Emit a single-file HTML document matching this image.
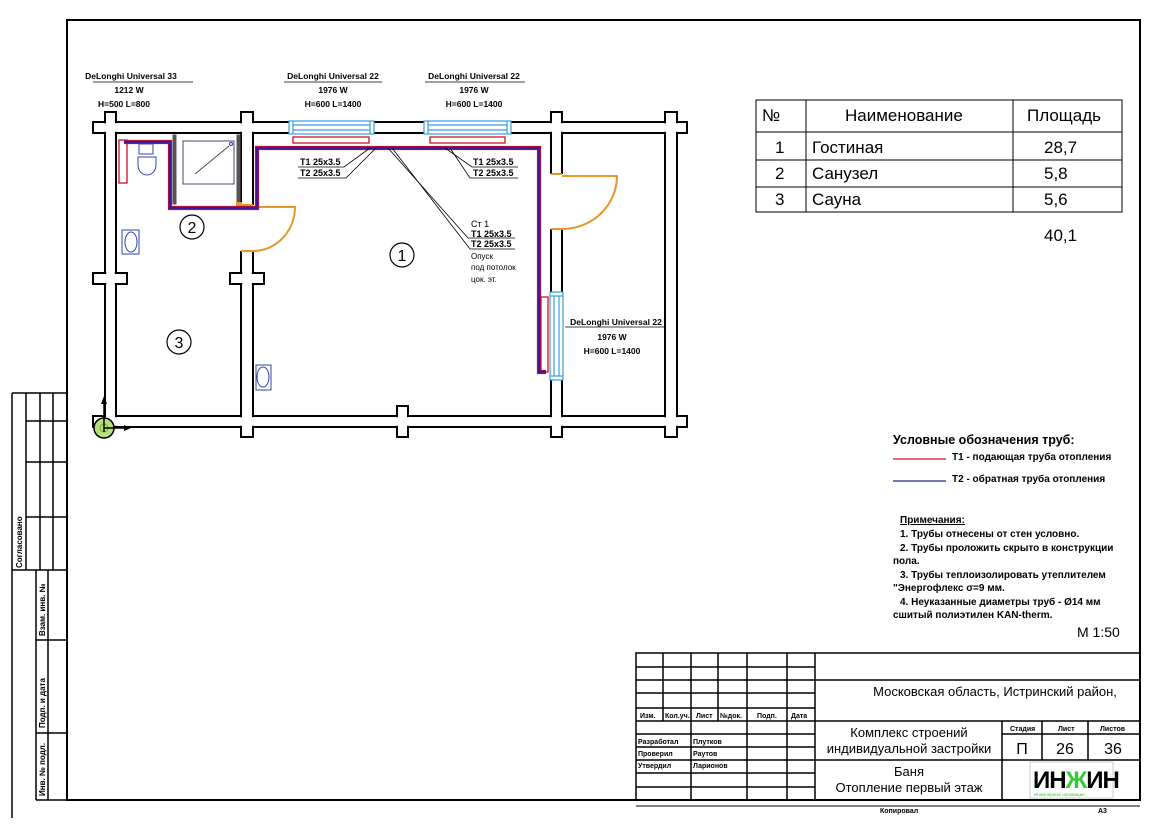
<!DOCTYPE html>
<html><head><meta charset="utf-8"><style>
html,body{margin:0;padding:0;background:#fff}
svg{display:block}
text{font-family:"Liberation Sans",sans-serif;fill:#000}
</style></head><body>
<svg width="1166" height="824" viewBox="0 0 1166 824" xmlns="http://www.w3.org/2000/svg">
<rect width="1166" height="824" fill="#fff"/>
<rect x="67" y="20" width="1073" height="780" fill="none" stroke="#000" stroke-width="2"/>
<line x1="636" y1="806" x2="1140" y2="806" stroke="#000" stroke-width="1"/>
<text x="880" y="813" font-size="7" font-weight="bold">Копировал</text>
<text x="1098" y="813" font-size="7" font-weight="bold">А3</text>
<g stroke="#000" stroke-width="1.5" fill="none">
<line x1="12" y1="393" x2="12" y2="818"/>
<line x1="12" y1="393" x2="67" y2="393"/>
<line x1="26" y1="393" x2="26" y2="570"/>
<line x1="40" y1="393" x2="40" y2="570"/>
<line x1="53" y1="393" x2="53" y2="570"/>
<line x1="26" y1="421" x2="67" y2="421"/>
<line x1="26" y1="462" x2="67" y2="462"/>
<line x1="26" y1="517" x2="67" y2="517"/>
<line x1="12" y1="570" x2="67" y2="570"/>
<line x1="36" y1="570" x2="36" y2="800"/>
<line x1="48" y1="570" x2="48" y2="800"/>
<line x1="36" y1="640" x2="67" y2="640"/>
<line x1="36" y1="733" x2="67" y2="733"/>
<line x1="36" y1="800" x2="67" y2="800"/>
</g>
<g font-size="8" font-weight="bold">
<text transform="translate(22,568) rotate(-90)">Согласовано</text>
<text transform="translate(45,636) rotate(-90)">Взам. инв. №</text>
<text transform="translate(45,728) rotate(-90)">Подп. и дата</text>
<text transform="translate(45,796) rotate(-90)">Инв. № подл.</text>
</g>

<g stroke="#000" stroke-width="2" fill="#fff">
<rect x="93" y="122" width="594" height="11"/>
<rect x="93" y="416" width="594" height="11"/>
<rect x="105" y="112" width="11" height="315"/>
<rect x="665" y="112" width="12" height="325"/>
<rect x="241" y="112" width="12" height="325"/>
<rect x="551" y="112" width="11" height="325"/>
<rect x="93" y="273" width="34" height="11"/>
<rect x="230" y="273" width="34" height="11"/>
<rect x="397" y="406" width="11" height="31"/>
</g>
<g fill="#fff">
<rect x="94.2" y="123.2" width="591.6" height="8.6"/>
<rect x="94.2" y="417.2" width="591.6" height="8.6"/>
<rect x="106.2" y="113.2" width="8.6" height="312.6"/>
<rect x="666.2" y="113.2" width="9.6" height="322.6"/>
<rect x="242.2" y="113.2" width="9.6" height="322.6"/>
<rect x="552.2" y="113.2" width="8.6" height="322.6"/>
<rect x="94.2" y="274.2" width="31.6" height="8.6"/>
<rect x="231.2" y="274.2" width="31.6" height="8.6"/>
<rect x="398.2" y="407.2" width="8.6" height="28.6"/>
</g>
<rect x="239" y="205" width="16" height="46" fill="#fff"/>
<rect x="549" y="174" width="15" height="55" fill="#fff"/>
<g stroke="#e8962a" stroke-width="2" fill="none">
<line x1="241" y1="205" x2="253" y2="205"/><line x1="241" y1="251" x2="253" y2="251"/>
<path d="M253 207 H295 A42 44 0 0 1 253 251"/>
<line x1="551" y1="174" x2="562" y2="174"/><line x1="551" y1="229" x2="562" y2="229"/>
<path d="M562 176 H617 A55 53 0 0 1 562 229"/>
</g>
<g stroke="#3a9ee0" stroke-width="1.2" fill="#fff">
<rect x="289" y="121" width="85" height="13"/>
<line x1="293" y1="125" x2="370" y2="125"/><line x1="293" y1="130" x2="370" y2="130"/>
<line x1="293" y1="121" x2="293" y2="134"/><line x1="370" y1="121" x2="370" y2="134"/>
<rect x="424" y="121" width="87" height="13"/>
<line x1="428" y1="125" x2="507" y2="125"/><line x1="428" y1="130" x2="507" y2="130"/>
<line x1="428" y1="121" x2="428" y2="134"/><line x1="507" y1="121" x2="507" y2="134"/>
<rect x="550" y="292" width="13" height="88"/>
<line x1="554" y1="296" x2="554" y2="376"/><line x1="559" y1="296" x2="559" y2="376"/>
<line x1="550" y1="296" x2="563" y2="296"/><line x1="550" y1="376" x2="563" y2="376"/>
</g>
<g stroke="#555" fill="none">
<rect x="173" y="135" width="3" height="69" fill="#555"/>
<rect x="237" y="135" width="3" height="69" fill="#555"/>
<rect x="183" y="141" width="51" height="43" stroke="#446" stroke-width="1"/>
<line x1="195" y1="174" x2="229" y2="146" stroke="#446"/>
<circle cx="231" cy="144" r="1.5" stroke="#33a"/>
</g>
<rect x="236" y="202" width="6" height="5" fill="#e8962a"/>
<g stroke="#3344aa" stroke-width="1" fill="none">
<rect x="139" y="144" width="14" height="10"/>
<path d="M138 157 h18 v8 a9 10 0 0 1 -18 0z"/>
<rect x="122" y="230" width="17" height="24"/>
<ellipse cx="131" cy="242" rx="6" ry="10"/>
<rect x="256" y="365" width="15" height="25"/>
<ellipse cx="263" cy="377" rx="6" ry="10"/>
</g>
<g stroke="#d01020" stroke-width="1.3" fill="#fff">
<rect x="293" y="137" width="76" height="6"/>
<rect x="430" y="137" width="75" height="6"/>
<rect x="541" y="297" width="7" height="75"/>
<rect x="119" y="140" width="8" height="43"/>
</g>
<path d="M124 142 H170 V208 H257 V148 H539 V372 H546" fill="none" stroke="#d01020" stroke-width="4.2"/>
<path d="M124 142 H170 V208 H257 V148 H539 V372 H546" fill="none" stroke="#3a1a9a" stroke-width="2.6"/>
<g stroke="#000" stroke-width="0.8" fill="none">
<polyline points="370,148 344,167 298,167"/>
<polyline points="376,148 346,178 298,178"/>
<polyline points="445,148 472,167 518,167"/>
<polyline points="450,148 470,178 518,178"/>
<polyline points="388,148 468,238 515,238"/>
<polyline points="392,148 470,249 515,249"/>
</g>
<g font-size="9" font-weight="bold">
<text x="300" y="165">T1 25x3.5</text><text x="300" y="176">T2 25x3.5</text>
<text x="473" y="165">T1 25x3.5</text><text x="473" y="176">T2 25x3.5</text>
<text x="471" y="227" font-weight="normal">Ст 1</text>
<text x="471" y="237">T1 25x3.5</text><text x="471" y="247">T2 25x3.5</text>
<text x="471" y="259" font-weight="normal" font-size="8">Опуск</text>
<text x="471" y="270" font-weight="normal" font-size="8">под потолок</text>
<text x="471" y="282" font-weight="normal" font-size="8">цок. эт.</text>
</g>
<g font-size="8.5" font-weight="bold" text-anchor="middle">
<text x="131" y="79">DeLonghi Universal 33</text><text x="129" y="93">1212 W</text><text x="124" y="107">H=500 L=800</text>
<text x="333" y="79">DeLonghi Universal 22</text><text x="333" y="93">1976 W</text><text x="333" y="107">H=600 L=1400</text>
<text x="474" y="79">DeLonghi Universal 22</text><text x="474" y="93">1976 W</text><text x="474" y="107">H=600 L=1400</text>
<text x="616" y="325">DeLonghi Universal 22</text><text x="612" y="340">1976 W</text><text x="612" y="354">H=600 L=1400</text>
</g>
<g stroke="#000" stroke-width="0.8">
<line x1="93" y1="82" x2="193" y2="82"/><line x1="284" y1="82" x2="382" y2="82"/>
<line x1="425" y1="82" x2="525" y2="82"/><line x1="565" y1="327" x2="664" y2="327"/>
</g>
<g fill="#fff" stroke="#000" stroke-width="1.2">
<circle cx="192" cy="227" r="12"/><circle cx="402" cy="255" r="12"/><circle cx="179" cy="342" r="12"/>
</g>
<g font-size="16" text-anchor="middle">
<text x="192" y="233">2</text><text x="402" y="261">1</text><text x="179" y="348">3</text>
</g>
<circle cx="104" cy="428" r="10" fill="#b8e07a" stroke="#000" stroke-width="1.5"/>
<circle cx="104" cy="428" r="4" fill="none" stroke="#6a3"/>
<line x1="104" y1="432" x2="104" y2="400" stroke="#000" stroke-width="1.5"/>
<path d="M101 404 L104 396 L107 404Z"/>
<line x1="104" y1="428" x2="126" y2="428" stroke="#000" stroke-width="1.5"/>
<path d="M124 425 L131 428 L124 431Z"/>
<g stroke="#000" stroke-width="1" fill="none">
<rect x="756" y="100" width="366" height="112"/>
<line x1="806" y1="100" x2="806" y2="212"/><line x1="1013" y1="100" x2="1013" y2="212"/>
<line x1="756" y1="132" x2="1122" y2="132"/><line x1="756" y1="160" x2="1122" y2="160"/><line x1="756" y1="187" x2="1122" y2="187"/>
</g>
<g font-size="17">
<text x="762" y="121">№</text><text x="845" y="121">Наименование</text><text x="1027" y="121">Площадь</text>
<text x="775" y="153">1</text><text x="812" y="153">Гостиная</text><text x="1044" y="153">28,7</text>
<text x="775" y="179">2</text><text x="812" y="179">Санузел</text><text x="1044" y="179">5,8</text>
<text x="775" y="205">3</text><text x="812" y="205">Сауна</text><text x="1044" y="205">5,6</text>
<text x="1044" y="241">40,1</text>
</g>
<text x="893" y="444" font-size="12.5" font-weight="bold">Условные обозначения  труб:</text>
<line x1="893" y1="459" x2="946" y2="459" stroke="#d01020" stroke-width="1.3"/>
<line x1="893" y1="481" x2="946" y2="481" stroke="#2020a0" stroke-width="1.3"/>
<g font-size="10" font-weight="bold">
<text x="952" y="460">Т1 - подающая труба отопления</text>
<text x="952" y="482">Т2 - обратная труба отопления</text>
</g>
<g font-size="10" font-weight="bold">
<text x="900" y="523" text-decoration="underline">Примечания:</text>
<text x="900" y="537">1. Трубы отнесены от стен условно.</text>
<text x="900" y="551">2. Трубы проложить скрыто в конструкции</text>
<text x="893" y="564">пола.</text>
<text x="900" y="578">3. Трубы теплоизолировать утеплителем</text>
<text x="893" y="591">"Энергофлекс σ=9 мм.</text>
<text x="900" y="605">4. Неуказанные диаметры труб - Ø14 мм</text>
<text x="893" y="618">сшитый полиэтилен KAN-therm.</text>
</g>
<text x="1077" y="637" font-size="14">М 1:50</text>
<g stroke="#000" stroke-width="1.5" fill="none">
<rect x="636" y="653" width="504" height="147"/>
<line x1="815" y1="653" x2="815" y2="800"/>
<line x1="663" y1="653" x2="663" y2="721"/>
<line x1="691" y1="653" x2="691" y2="800"/>
<line x1="718" y1="653" x2="718" y2="721"/>
<line x1="747" y1="653" x2="747" y2="800"/>
<line x1="787" y1="653" x2="787" y2="800"/>
<line x1="636" y1="667" x2="815" y2="667"/><line x1="636" y1="680" x2="1140" y2="680"/>
<line x1="636" y1="693" x2="815" y2="693"/><line x1="636" y1="708" x2="815" y2="708"/>
<line x1="636" y1="721" x2="1140" y2="721"/><line x1="636" y1="734" x2="815" y2="734"/>
<line x1="636" y1="747" x2="815" y2="747"/><line x1="636" y1="760" x2="1140" y2="760"/>
<line x1="636" y1="773" x2="815" y2="773"/><line x1="636" y1="787" x2="815" y2="787"/>
<line x1="1002" y1="721" x2="1002" y2="800"/><line x1="1042" y1="721" x2="1042" y2="760"/>
<line x1="1088" y1="721" x2="1088" y2="760"/><line x1="1002" y1="734" x2="1140" y2="734"/>
</g>
<g font-size="7" font-weight="bold">
<text x="640" y="718">Изм.</text><text x="665" y="718">Кол.уч.</text><text x="696" y="718">Лист</text>
<text x="720" y="718">№док.</text><text x="757" y="718">Подп.</text><text x="791" y="718">Дата</text>
<text x="638" y="744">Разработал</text><text x="693" y="744">Плутков</text>
<text x="638" y="756">Проверил</text><text x="693" y="756">Раутов</text>
<text x="638" y="768">Утвердил</text><text x="693" y="768">Ларионов</text>
<text x="1010" y="731">Стадия</text><text x="1058" y="731">Лист</text><text x="1100" y="731">Листов</text>
</g>
<g font-size="13" text-anchor="middle">
<text x="995" y="696">Московская область, Истринский район,</text>
<text x="909" y="737">Комплекс строений</text>
<text x="909" y="753">индивидуальной застройки</text>
<text x="909" y="776">Баня</text>
<text x="909" y="792">Отопление первый этаж</text>
<text x="1022" y="754" font-size="16">П</text>
<text x="1065" y="754" font-size="16">26</text>
<text x="1113" y="754" font-size="16">36</text>
</g>
<rect x="1030" y="762" width="83" height="36" fill="#fff" stroke="#ccc"/>
<text x="1033" y="788" font-size="24" font-weight="bold" letter-spacing="-1">ИН<tspan style="fill:#3c3">Ж</tspan>ИН</text>
<text x="1034" y="796" font-size="4.5" style="fill:#3c3">Инженерные инновации</text>
</svg>
</body></html>
